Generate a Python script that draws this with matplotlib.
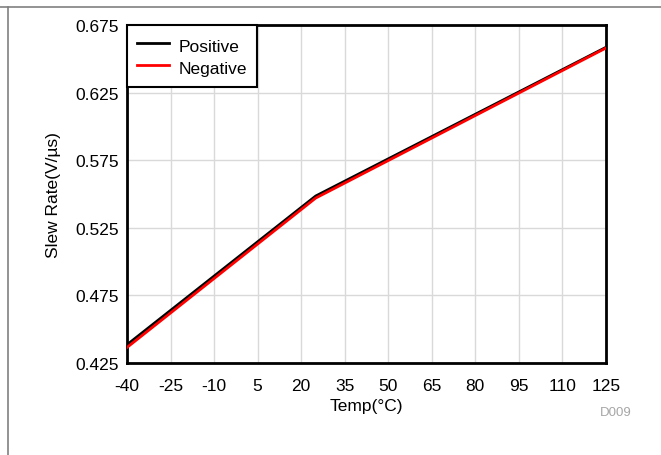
import matplotlib
matplotlib.use("Agg")
from matplotlib import pyplot as plt
from matplotlib.lines import Line2D

plt.rcParams['font.family'] = ['Liberation Sans', 'DejaVu Sans']
plt.rcParams['axes.unicode_minus'] = False

temp = [-40, 25, 125]
positive = [0.4385, 0.5485, 0.6585]
negative = [0.4365, 0.5470, 0.6580]

xticks = [-40, -25, -10, 5, 20, 35, 50, 65, 80, 95, 110, 125]
yticks = [0.425, 0.475, 0.525, 0.575, 0.625, 0.675]

fig = plt.figure(figsize=(6.61, 4.56), dpi=100)
ax = fig.add_axes([127 / 661, 1 - 364 / 456, (606 - 127) / 661, (364 - 26) / 456])

ax.plot(temp, positive, color='black', lw=2, label='Positive', zorder=3)
ax.plot(temp, negative, color='#ff0000', lw=2, label='Negative', zorder=4)

ax.set_xlim(-40, 125)
ax.set_ylim(0.425, 0.675)
ax.set_xticks(xticks)
ax.set_xticklabels([str(v) for v in xticks])
ax.set_yticks(yticks)
ax.set_yticklabels(['{:.3f}'.format(v) for v in yticks])
ax.grid(True, color='#d9d9d9', lw=1)
ax.tick_params(length=0, labelsize=12.5)
ax.tick_params(axis='x', pad=10.5)
ax.tick_params(axis='y', pad=6)
for s in ax.spines.values():
    s.set_linewidth(2)

ax.set_xlabel('Temp(°C)', fontsize=12.5, labelpad=4)
ax.set_ylabel('Slew Rate(V/µs)', fontsize=12.5, labelpad=10)

leg = ax.legend(loc='upper left', bbox_to_anchor=(0, 1), borderaxespad=0,
                fancybox=False, framealpha=1, edgecolor='black', fontsize=12.5,
                handlelength=1.85, handletextpad=0.6, borderpad=0.55,
                handleheight=1.5, labelspacing=0.05)
leg.get_frame().set_linewidth(1.5)

fig.text(632 / 661, 1 - 413 / 456, 'D009', color='#a6a6a6', fontsize=9.5,
         ha='right', va='center')

# page frame lines
fig.add_artist(Line2D([0, 1], [1 - 7.5 / 456] * 2, color='#808080', lw=1.2))
fig.add_artist(Line2D([8 / 661] * 2, [0, 1 - 7.5 / 456], color='#808080', lw=1.2))

fig.savefig('out.png', dpi=100)
